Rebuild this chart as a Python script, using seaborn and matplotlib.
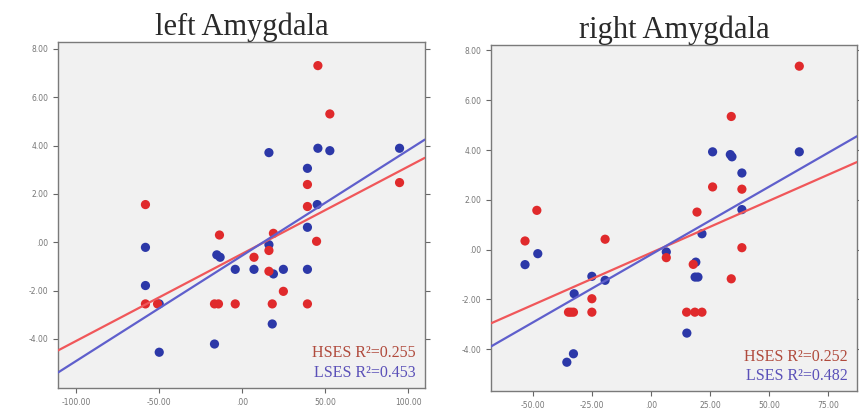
import matplotlib
matplotlib.use('Agg')
import matplotlib.pyplot as plt
import seaborn as sns

# values (y = score, x = amygdala measure)
left_hses_x = [45.6, 52.8, 94.8, -58.3, 39.3, 39.3, 44.8, -13.7, 18.8, 7.1, 16.1, 16.1,
               24.8, -58.3, -51.0, -16.7, -14.3, -4.2, 18.1, 39.3]
left_hses_y = [7.31, 5.31, 2.47, 1.56, 2.39, 1.48, 0.04, 0.30, 0.37, -0.62, -0.34, -1.20,
               -2.03, -2.55, -2.55, -2.55, -2.55, -2.55, -2.55, -2.55]
left_lses_x = [45.6, 52.8, 94.8, 16.1, 39.3, 45.2, 39.3, -58.3, -58.3, -50.0, -50.0, -16.7,
               -15.3, -13.3, -4.2, 7.1, 16.1, 18.8, 24.8, 39.3, 18.1]
left_lses_y = [3.89, 3.79, 3.89, 3.71, 3.06, 1.56, 0.62, -0.21, -1.79, -2.55, -4.55, -4.21,
               -0.52, -0.62, -1.12, -1.12, -0.10, -1.31, -1.12, -1.12, -3.38]

right_hses_x = [62.7, 33.9, 26.0, 38.4, -48.4, -53.4, -19.5, 19.4, 38.4, 6.4, 33.9, 17.8,
                -25.1, -25.1, -35.0, -34.0, -32.9, 15.0, 18.5, 21.5]
right_hses_y = [7.37, 5.35, 2.52, 2.43, 1.58, 0.35, 0.42, 1.51, 0.08, -0.32, -1.17, -0.59,
                -1.97, -2.51, -2.51, -2.51, -2.51, -2.51, -2.51, -2.51]
right_lses_x = [62.7, 26.0, 33.5, 34.2, 38.4, 38.4, 21.5, 6.4, -48.0, -53.4, 18.9, 18.6,
                19.8, -25.1, -19.5, -32.6, 15.1, -35.7, -32.9]
right_lses_y = [3.93, 3.93, 3.82, 3.73, 3.08, 1.61, 0.64, -0.09, -0.16, -0.60, -0.50, -1.10,
                -1.10, -1.07, -1.23, -1.77, -3.35, -4.52, -4.18]

titles = ['left Amygdala', 'right Amygdala']
r2_hses = ['0.255', '0.252']
r2_lses = ['0.453', '0.482']
xticks_left = [-100, -50, 0, 50, 100]
xticks_right = [-50, -25, 0, 25, 50, 75]
yticks = [-4, -2, 0, 2, 4, 6, 8]

RED = '#e02a2c'
BLUE = '#2c38a8'
RED_LINE = '#f0575a'
BLUE_LINE = '#5f5fcc'

sns.set_style('white')
plt.rcParams['font.family'] = ['DejaVu Sans']

fig = plt.figure(figsize=(8.59, 4.13), dpi=100)
ax_l = fig.add_axes([0.0675, 0.0605, 0.427, 0.838])
ax_r = fig.add_axes([0.5716, 0.053, 0.426, 0.838])


def fmt(v):
    # SPSS style labels: .00, -2.00, 50.00
    s = '%.2f' % v
    if s.startswith('0.'):
        s = s[1:]
    return s


def panel(ax, hx, hy, lx, ly, xlim, ylim, xticks, title, r2h, r2l):
    ax.set_facecolor('#f1f1f1')
    ax.set_xlim(xlim)
    ax.set_ylim(ylim)
    sns.scatterplot(x=lx, y=ly, ax=ax, color=BLUE, s=44, edgecolor='none', zorder=3)
    sns.scatterplot(x=hx, y=hy, ax=ax, color=RED, s=44, edgecolor='none', zorder=3)
    # fit lines span the whole axis (truncate=False uses current xlim)
    sns.regplot(x=hx, y=hy, ax=ax, scatter=False, ci=None, truncate=False,
                line_kws={'color': RED_LINE, 'lw': 1.6, 'zorder': 4})
    sns.regplot(x=lx, y=ly, ax=ax, scatter=False, ci=None, truncate=False,
                line_kws={'color': BLUE_LINE, 'lw': 1.6, 'zorder': 4})
    ax.set_xlim(xlim)
    ax.set_ylim(ylim)
    ax.set_xticks(xticks)
    ax.set_xticklabels([fmt(v) for v in xticks])
    ax.set_yticks(yticks)
    ax.set_yticklabels([fmt(v) for v in yticks])
    ax.tick_params(axis='both', labelsize=5.5, labelcolor='#777777', color='#666666',
                   length=3.5, width=0.8, direction='out', bottom=True, left=True, right=True)
    ax.tick_params(axis='y', labelright=False)
    for sp in ax.spines.values():
        sp.set_color('#7a7a7a')
        sp.set_linewidth(1.0)
    ax.set_xlabel('')
    ax.set_ylabel('')
    ax.set_title(title, family='Liberation Serif', fontsize=22, color='#2a2a2a', pad=5)
    ax.text(0.975, 0.10, 'HSES R\u00b2=' + r2h, transform=ax.transAxes, ha='right',
            va='center', family='Liberation Serif', fontsize=11.5, color='#b04a3c')
    ax.text(0.975, 0.043, 'LSES R\u00b2=' + r2l, transform=ax.transAxes, ha='right',
            va='center', family='Liberation Serif', fontsize=11.5, color='#5a50b8')


panel(ax_l, left_hses_x, left_hses_y, left_lses_x, left_lses_y, (-111, 110), (-6.03, 8.29),
      xticks_left, titles[0], r2_hses[0], r2_lses[0])
panel(ax_r, right_hses_x, right_hses_y, right_lses_x, right_lses_y, (-67.8, 87.1), (-5.68, 8.22),
      xticks_right, titles[1], r2_hses[1], r2_lses[1])

fig.savefig('out.png', dpi=100)
